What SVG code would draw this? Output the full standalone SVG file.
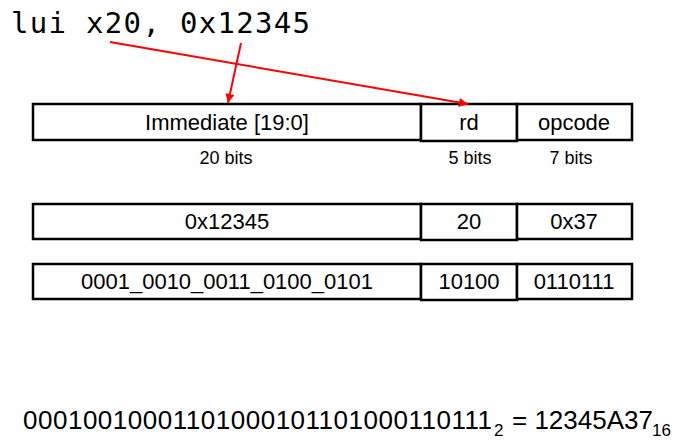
<svg xmlns="http://www.w3.org/2000/svg" width="687" height="446" viewBox="0 0 687 446">
<defs>
<style>
.cell{fill:#fff;stroke:#000;stroke-width:2.5}
.lbl{font-family:"Liberation Sans",Arial,sans-serif;font-size:22px;fill:#000;text-anchor:middle}
.small{font-family:"Liberation Sans",Arial,sans-serif;font-size:18px;fill:#000;text-anchor:middle}
.code{font-family:"DejaVu Sans Mono","Liberation Mono",monospace;font-size:29px;fill:#000}
.conn{stroke:#ff0000;stroke-width:2;fill:none;marker-end:url(#ah)}
.big{font-family:"Liberation Sans",Arial,sans-serif;font-size:26px;fill:#000}
.sub{font-family:"Liberation Sans",Arial,sans-serif;font-size:17px;fill:#000}
</style>
<marker id="ah" viewBox="0 0 10 10" refX="10" refY="5" markerWidth="5" markerHeight="4.5" markerUnits="strokeWidth" orient="auto">
<path d="M0,0 L10,5 L0,10 Z" fill="#ff0000"/>
</marker>
</defs>
<rect width="687" height="446" fill="#fff"/>
<g id="instruction">
<text class="code" x="11" y="33" textLength="299">lui x20, 0x12345</text>
</g>
<g id="format-row">
<rect class="cell" x="33" y="104" width="388" height="36"/>
<rect class="cell" x="421" y="104" width="96" height="37"/>
<rect class="cell" x="517" y="104" width="115" height="36"/>
<text class="lbl" x="227" y="130">Immediate [19:0]</text>
<text class="lbl" x="469" y="130">rd</text>
<text class="lbl" x="574" y="130">opcode</text>
</g>
<g id="widths">
<text class="small" x="226" y="164">20 bits</text>
<text class="small" x="470" y="164">5 bits</text>
<text class="small" x="571" y="164">7 bits</text>
</g>
<g id="hex-row">
<rect class="cell" x="33" y="204" width="388" height="35"/>
<rect class="cell" x="421" y="204" width="96" height="36"/>
<rect class="cell" x="517" y="204" width="115" height="35"/>
<text class="lbl" x="227" y="229">0x12345</text>
<text class="lbl" x="469" y="229">20</text>
<text class="lbl" x="574" y="229">0x37</text>
</g>
<g id="bin-row">
<rect class="cell" x="33" y="264" width="388" height="35"/>
<rect class="cell" x="421" y="264" width="96" height="36"/>
<rect class="cell" x="517" y="264" width="115" height="35"/>
<text class="lbl" x="227" y="289">0001_0010_0011_0100_0101</text>
<text class="lbl" x="469" y="289">10100</text>
<text class="lbl" x="574" y="289">0110111</text>
</g>
<g id="connectors">
<line class="conn" x1="110" y1="42" x2="468" y2="104"/>
<line class="conn" x1="241" y1="43" x2="228" y2="103"/>
</g>
<g id="result">
<text class="big" x="23" y="429" textLength="469">00010010001101000101101000110111</text>
<text class="sub" x="494" y="436">2</text>
<text class="big" x="512" y="429">= 12345A37</text>
<text class="sub" x="652" y="436">16</text>
</g>
</svg>
